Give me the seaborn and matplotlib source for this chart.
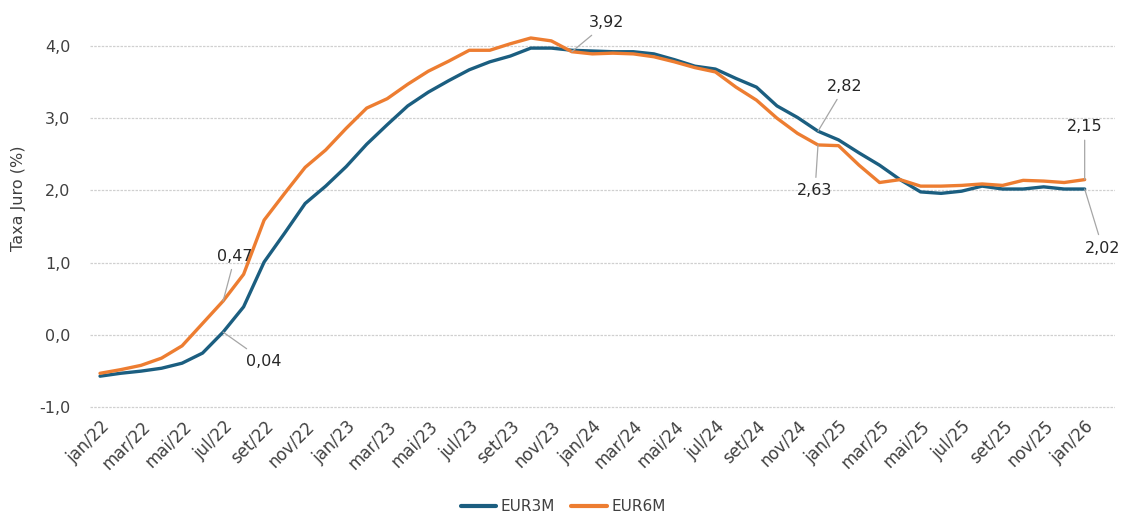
import numpy as np
import pandas as pd
import matplotlib
matplotlib.use("Agg")
import matplotlib.pyplot as plt
from matplotlib.ticker import FuncFormatter
import seaborn as sns

# --- Data (monthly averages, jan/22 .. jan/26) ---
MESES = ["jan", "fev", "mar", "abr", "mai", "jun", "jul", "ago", "set", "out", "nov", "dez"]
ANOS = ["22", "23", "24", "25", "26"]

EUR3M = [
    -0.57, -0.53, -0.50, -0.46, -0.39, -0.25, 0.04, 0.39, 1.01, 1.41, 1.82, 2.06,
    2.33, 2.64, 2.91, 3.17, 3.36, 3.52, 3.67, 3.78, 3.86, 3.97, 3.97, 3.94,
    3.93, 3.92, 3.92, 3.89, 3.81, 3.72, 3.68, 3.55, 3.43, 3.17, 3.01, 2.82,
    2.70, 2.52, 2.35, 2.15, 1.98, 1.96, 1.99, 2.06, 2.02, 2.02, 2.05, 2.02,
    2.02,
]
EUR6M = [
    -0.53, -0.48, -0.42, -0.32, -0.15, 0.16, 0.47, 0.84, 1.59, 1.96, 2.32, 2.56,
    2.86, 3.14, 3.27, 3.47, 3.65, 3.79, 3.94, 3.94, 4.03, 4.11, 4.07, 3.92,
    3.89, 3.90, 3.89, 3.85, 3.78, 3.70, 3.64, 3.43, 3.25, 3.00, 2.79, 2.63,
    2.62, 2.35, 2.11, 2.15, 2.06, 2.06, 2.07, 2.09, 2.07, 2.14, 2.13, 2.11,
    2.15,
]

# labelled points: (series, month index, text offset in pixels)
ANOTACOES = [
    ("EUR6M", 6, (12, 45)),
    ("EUR3M", 6, (41, -29)),
    ("EUR6M", 23, (35, 29)),
    ("EUR3M", 35, (27, 45)),
    ("EUR6M", 35, (-3, -46)),
    ("EUR6M", 48, (0, 53)),
    ("EUR3M", 48, (18, -59)),
]

CORES = {"EUR3M": "#1B5E80", "EUR6M": "#ED7D31"}

labels = [f"{m}/{a}" for a in ANOS for m in MESES][: len(EUR3M)]
n = len(labels)
df = pd.DataFrame({
    "idx": list(range(n)) * 2,
    "taxa": EUR3M + EUR6M,
    "serie": ["EUR3M"] * n + ["EUR6M"] * n,
})
valores = {"EUR3M": EUR3M, "EUR6M": EUR6M}

sns.set_theme(style="white")
plt.rcParams["font.family"] = ["DejaVu Sans"]

fig = plt.figure(figsize=(11.26, 5.13), dpi=100)
ax = fig.add_axes([0.0799, 0.2033, 0.910, 0.7635])

sns.lineplot(data=df, x="idx", y="taxa", hue="serie", palette=CORES,
             linewidth=2.4, ax=ax)

ax.set_xlim(-0.49, 49.46)
ax.set_ylim(-1.02, 4.4)
ax.set_yticks(np.arange(-1, 4.01, 1))
ax.yaxis.set_major_formatter(FuncFormatter(lambda v, _: f"{v:.1f}".replace(".", ",")))
ax.set_xticks(range(0, n, 2))
ax.set_xticklabels(labels[::2], rotation=45, ha="right", rotation_mode="anchor")
ax.tick_params(axis="both", length=0, colors="#404040")
ax.tick_params(axis="y", pad=14, labelsize=11.5)
ax.tick_params(axis="x", pad=6, labelsize=12)
ax.grid(axis="y", color="#d0d0d0", lw=0.9, linestyle=(0, (2, 1)))
ax.set_axisbelow(True)
for s in ax.spines.values():
    s.set_visible(False)
ax.set_xlabel("")
ax.set_ylabel("")
fig.text(0.016, 0.614, "Taxa Juro (%)", rotation=90, ha="center", va="center",
         fontsize=11.5, color="#404040")

for serie, i, (dx, dy) in ANOTACOES:
    v = valores[serie][i]
    ax.annotate(f"{v:.2f}".replace(".", ","), xy=(i, v), xytext=(dx, dy),
                textcoords="offset pixels", ha="center", va="center",
                fontsize=11.5, color="#262626",
                arrowprops=dict(arrowstyle="-", color="#a6a6a6", lw=0.9,
                                shrinkA=2, shrinkB=0))

sns.move_legend(ax, "center", bbox_to_anchor=(0.5, 0.012), bbox_transform=fig.transFigure,
                ncol=2, frameon=False, title=None, fontsize=11,
                handlelength=2.3, handletextpad=0.3, columnspacing=1.1)
for t in ax.get_legend().get_texts():
    t.set_color("#404040")
for h in ax.get_legend().legend_handles:
    h.set_linewidth(3)

fig.savefig("out.png", dpi=100)
